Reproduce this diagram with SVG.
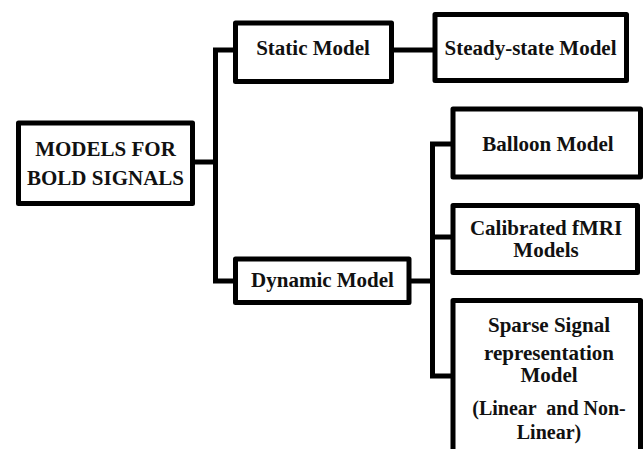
<svg xmlns="http://www.w3.org/2000/svg" width="644" height="449" viewBox="0 0 644 449">
<style>
.box{fill:#fff;stroke:#000;stroke-width:5;stroke-linejoin:round}
.con{fill:none;stroke:#000;stroke-width:5;stroke-linejoin:miter}
text{font-family:"Liberation Serif","Times New Roman",serif;font-weight:bold;font-size:21px;text-anchor:middle;fill:#111;white-space:pre}
.sm{font-size:20px}
</style>
<rect width="644" height="449" fill="#fff"/>
<g id="connectors">
<path class="con" d="M192,162 H215.5"/>
<path class="con" d="M238,50 H215.5 V281 H238"/>
<path class="con" d="M391,50 H436"/>
<path class="con" d="M409,281 H432.5"/>
<path class="con" d="M453,144 H432.5 V376 H453"/>
<path class="con" d="M432.5,237 H453"/>
</g>
<g id="root">
<rect class="box" x="18.5" y="123" width="174" height="80.5"/>
<text x="105.5" y="156">MODELS FOR</text>
<text x="105.5" y="185">BOLD SIGNALS</text>
</g>
<g id="static">
<rect class="box" x="235.5" y="23" width="156" height="58.5"/>
<text x="313" y="55">Static Model</text>
</g>
<g id="steady">
<rect class="box" x="435" y="14.5" width="191.5" height="66"/>
<text x="530.5" y="55">Steady-state Model</text>
</g>
<g id="dynamic">
<rect class="box" x="235.5" y="259" width="173.5" height="43.5"/>
<text x="322.5" y="287">Dynamic Model</text>
</g>
<g id="balloon">
<rect class="box" x="453" y="109" width="187.5" height="68"/>
<text x="548" y="151">Balloon Model</text>
</g>
<g id="calibrated">
<rect class="box" x="453" y="205.5" width="184.5" height="67"/>
<text x="546" y="235">Calibrated fMRI</text>
<text x="546" y="257">Models</text>
</g>
<g id="sparse">
<rect class="box" x="453" y="300.5" width="187.5" height="160"/>
<text x="549" y="332">Sparse Signal</text>
<text x="549" y="360">representation</text>
<text x="549" y="382">Model</text>
<text class="sm" x="549" y="415">(Linear  and Non-</text>
<text class="sm" x="549" y="439">Linear)</text>
</g>
</svg>
